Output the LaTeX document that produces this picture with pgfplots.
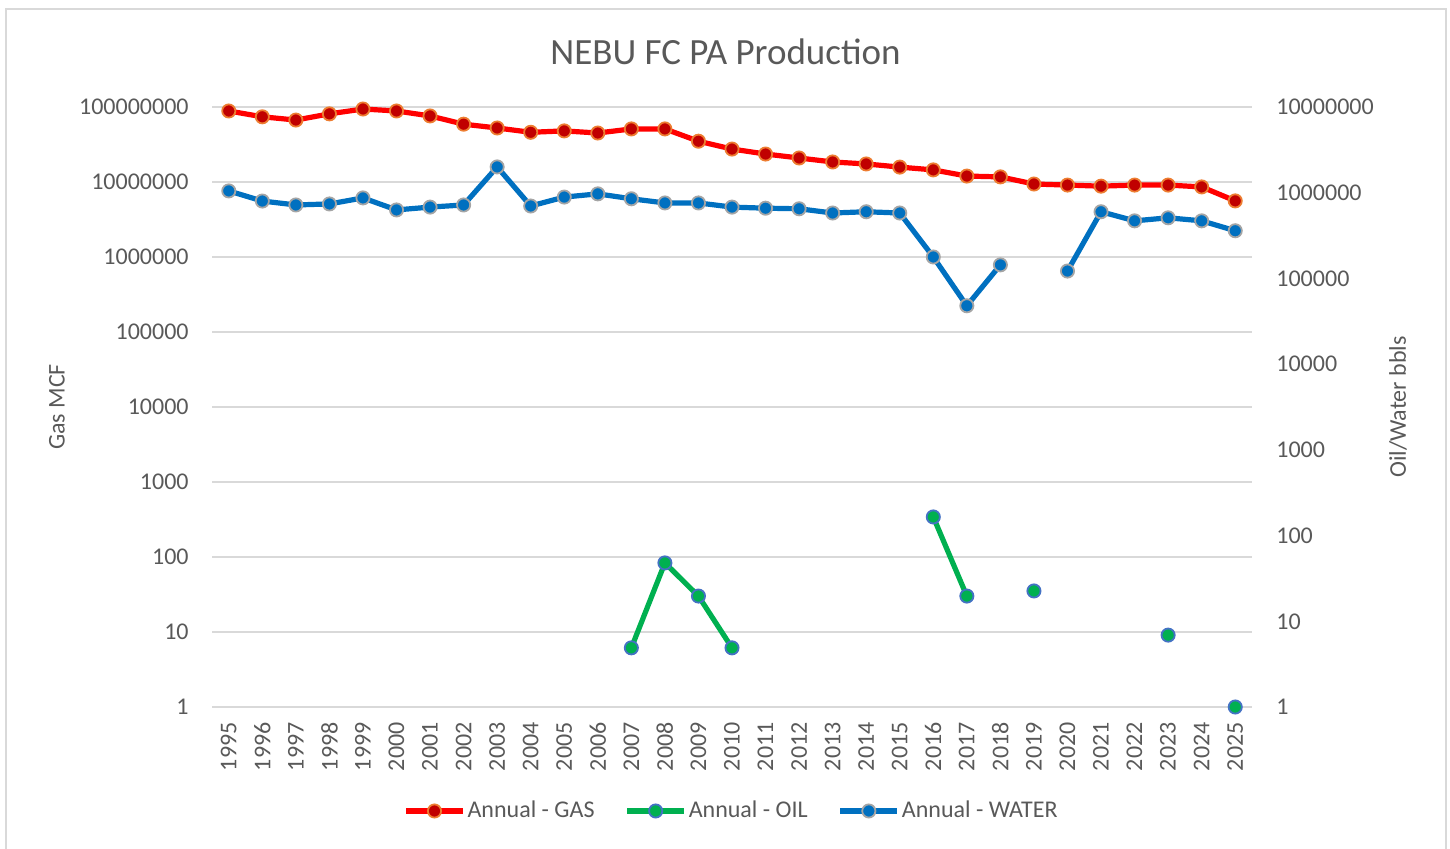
\documentclass[border=0pt]{standalone}
\usepackage{pgfplots}
\pgfplotsset{compat=1.18}
\usepackage{pgfplotstable}
\usepackage{fontspec}
\setmainfont{Carlito}
\definecolor{txt}{HTML}{595959}
\definecolor{gridc}{HTML}{D9D9D9}
\definecolor{gasline}{HTML}{FF0000}
\definecolor{gasfill}{HTML}{C00000}
\definecolor{gasedge}{HTML}{ED7D31}
\definecolor{oilc}{HTML}{00B050}
\definecolor{oiledge}{HTML}{4472C4}
\definecolor{watc}{HTML}{0070C0}
\definecolor{watedge}{HTML}{A5A5A5}

\pgfplotstableread{
year gas
1995 88500000
1996 74000000
1997 67000000
1998 81000000
1999 94000000
2000 88500000
2001 76000000
2002 59000000
2003 52500000
2004 46000000
2005 48000000
2006 45000000
2007 51000000
2008 51000000
2009 35000000
2010 27500000
2011 23600000
2012 20900000
2013 18500000
2014 17400000
2015 15800000
2016 14500000
2017 12000000
2018 11700000
2019 9400000
2020 9100000
2021 8800000
2022 9100000
2023 9100000
2024 8600000
2025 5600000
}\gasdata

\pgfplotstableread{
year oil water
1995 nan 1050000
1996 nan 800000
1997 nan 720000
1998 nan 740000
1999 nan 870000
2000 nan 630000
2001 nan 680000
2002 nan 720000
2003 nan 2000000
2004 nan 700000
2005 nan 890000
2006 nan 970000
2007 4.9 850000
2008 48 760000
2009 19.7 760000
2010 4.9 680000
2011 nan 660000
2012 nan 650000
2013 nan 580000
2014 nan 600000
2015 nan 580000
2016 165 178000
2017 19.7 48000
2018 nan 144000
2019 22.6 nan
2020 nan 122000
2021 nan 600000
2022 nan 470000
2023 6.9 510000
2024 nan 470000
2025 1 360000
}\owdata

\tikzset{
  gasst/.style={draw=gasline, line width=2.6pt, mark=*, mark size=3.3pt,
    mark options={fill=gasfill, draw=gasedge, line width=0.9pt, solid}},
  oilst/.style={draw=oilc, line width=2.6pt, mark=*, mark size=3.3pt,
    mark options={fill=oilc, draw=oiledge, line width=0.9pt, solid}},
  watst/.style={draw=watc, line width=2.6pt, mark=*, mark size=3.3pt,
    mark options={fill=watc, draw=watedge, line width=0.9pt, solid}},
}

\begin{document}
\begin{tikzpicture}
\useasboundingbox (0pt,0pt) rectangle (725pt,424pt);
\draw[gridc, line width=1pt] (3pt,-5pt) rectangle (723pt,419.5pt);
\node[font=\fontsize{18.5}{22}\selectfont, text=txt] at (362.75pt,398pt) {NEBU FC PA Production};

\begin{axis}[
  at={(106pt,70.5pt)}, anchor=south west,
  scale only axis, width=520pt, height=300pt,
  xmin=1994.5, xmax=2025.5,
  ymode=log, log basis y=10,
  major tick length=0pt, minor tick length=0pt,
  axis line style={draw=none},
  clip=false,
  unbounded coords=jump,
  tick label style={font=\fontsize{12}{14}\selectfont, text=txt},
  label style={font=\fontsize{12}{14}\selectfont, text=txt},
  ymin=1, ymax=1e8,
  xtick={1995,...,2025},
  xticklabel style={rotate=90, anchor=east, inner sep=0pt},
  xticklabel shift=7.5pt,
  /pgf/number format/set thousands separator={},
  /pgf/number format/assume math mode=true,
  ytick={1,10,100,1000,10000,100000,1000000,10000000,100000000},
  yticklabels={1,10,100,1000,10000,100000,1000000,10000000,100000000},
  yticklabel style={anchor=east, inner sep=0pt, xshift=-11.5pt},
  ymajorgrids, yminorgrids=false,
  grid style={gridc, line width=1pt},
  ylabel={Gas MCF},
  ylabel style={at={(axis description cs:-0.149,0.5)}, anchor=center},
]
\addplot[gasst] table[x=year, y=gas] {\gasdata};
\end{axis}

\begin{axis}[
  at={(106pt,70.5pt)}, anchor=south west,
  scale only axis, width=520pt, height=300pt,
  xmin=1994.5, xmax=2025.5,
  ymode=log, log basis y=10,
  major tick length=0pt, minor tick length=0pt,
  axis line style={draw=none},
  clip=false,
  unbounded coords=jump,
  tick label style={font=\fontsize{12}{14}\selectfont, text=txt},
  label style={font=\fontsize{12}{14}\selectfont, text=txt},
  ymin=1, ymax=1e7,
  axis x line=none,
  axis y line*=right,
  ytick={1,10,100,1000,10000,100000,1000000,10000000},
  yticklabels={1,10,100,1000,10000,100000,1000000,10000000},
  yticklabel style={anchor=west, inner sep=0pt, xshift=12pt},
  ylabel={Oil/Water bbls},
  ylabel style={at={(axis description cs:1.1404,0.5)}, anchor=center},
  legend columns=3,
  legend style={at={(axis description cs:0.4995,-0.1733)}, anchor=center,
    draw=none, fill=none, inner sep=0pt,
    font=\fontsize{12}{14}\selectfont, text=txt,
    nodes={inner xsep=1pt, inner ysep=0pt},
    /tikz/every even column/.append style={column sep=14pt}},
  legend cell align=left,
  legend image code/.code={\draw[mark repeat=2,mark phase=2,#1] plot coordinates {(0pt,0pt) (14.25pt,0pt) (28.5pt,0pt)};},
]
\addlegendimage{gasst}
\addlegendentry{Annual - GAS}
\addplot[oilst] table[x=year, y=oil] {\owdata};
\addlegendentry{Annual - OIL}
\addplot[watst] table[x=year, y=water] {\owdata};
\addlegendentry{Annual - WATER}
\end{axis}
\end{tikzpicture}
\end{document}
